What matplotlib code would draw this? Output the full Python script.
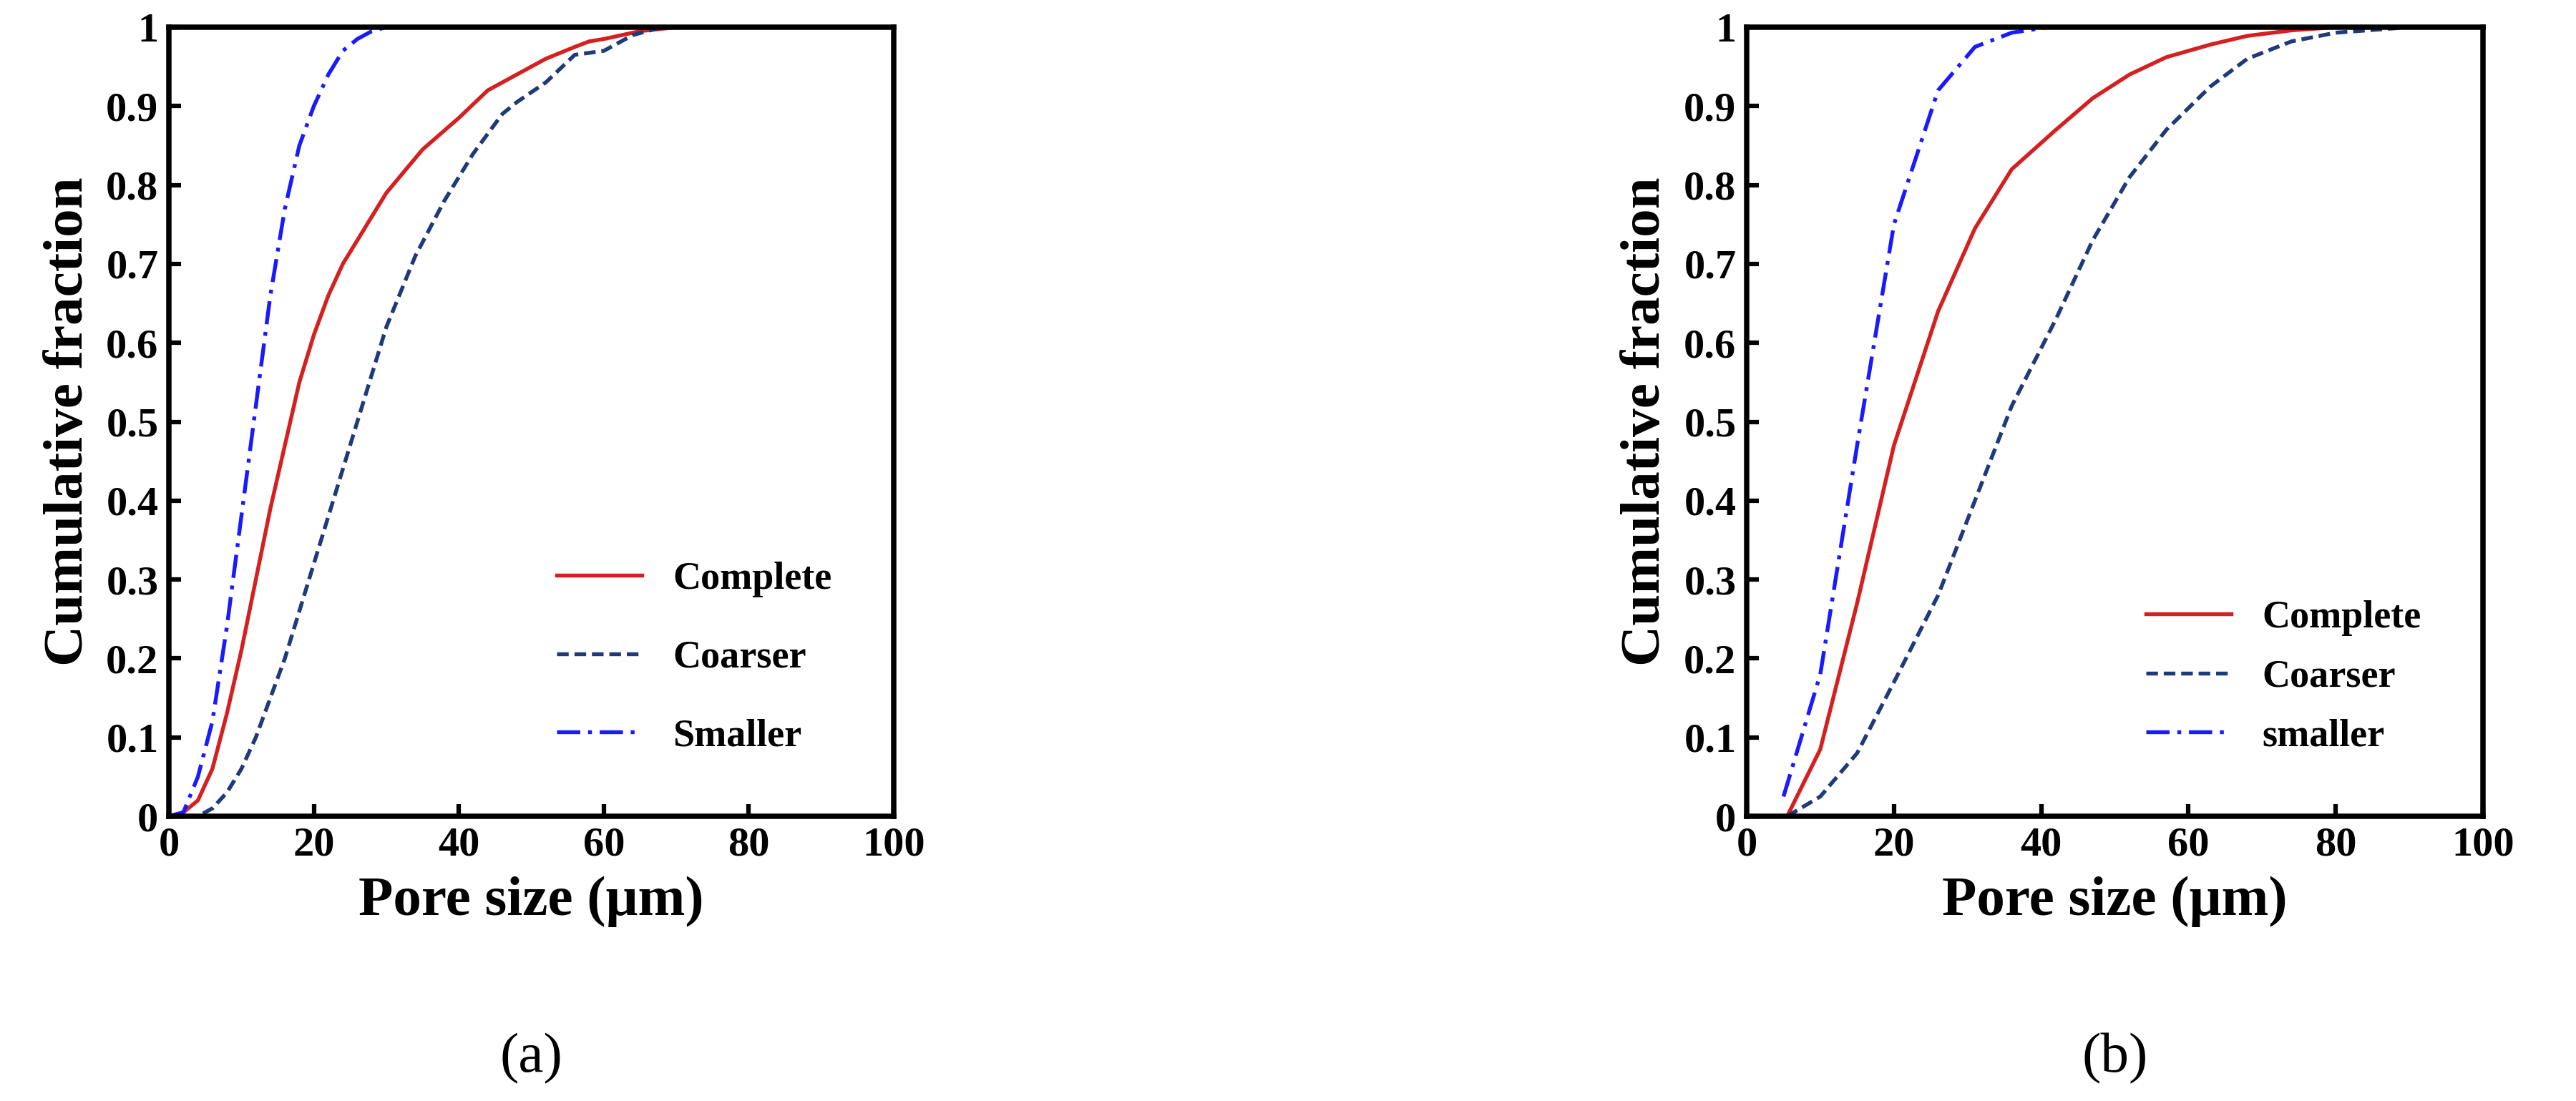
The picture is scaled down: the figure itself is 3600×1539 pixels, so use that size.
import numpy as np
import matplotlib
matplotlib.use('Agg')
import matplotlib.pyplot as plt

plt.rcParams['font.family'] = ['Liberation Serif', 'DejaVu Serif']
plt.rcParams['font.weight'] = 'bold'

# (a)
A_COMP_X = [0, 2, 4, 6, 8, 10, 12, 14, 16, 18, 20, 22, 24, 26, 30, 35, 40, 44, 48, 52, 56, 58, 60, 65, 70, 82]
A_COMP_Y = [0, 0.005, 0.02, 0.06, 0.13, 0.21, 0.30, 0.39, 0.47, 0.55, 0.61, 0.66, 0.70, 0.73, 0.79, 0.845,
            0.885, 0.92, 0.94, 0.96, 0.975, 0.982, 0.985, 0.995, 1.0, 1.0]
A_COAR_X = [0, 4, 6, 8, 10, 12, 14, 16, 18, 20, 22, 24, 26, 28, 30, 34, 38, 42, 46, 48, 52, 56, 60, 64, 68, 82]
A_COAR_Y = [0, 0, 0.01, 0.03, 0.06, 0.10, 0.15, 0.20, 0.26, 0.32, 0.38, 0.44, 0.50, 0.56, 0.62, 0.71, 0.78,
            0.84, 0.89, 0.905, 0.93, 0.965, 0.97, 0.99, 1.0, 1.0]
A_SMAL_X = [0, 2, 4, 6, 8, 10, 12, 14, 16, 18, 20, 22, 24, 26, 28, 30, 34]
A_SMAL_Y = [0, 0.005, 0.05, 0.12, 0.24, 0.38, 0.52, 0.66, 0.77, 0.85, 0.90, 0.94, 0.97, 0.985, 0.995, 1.0, 1.0]

# (b)
B_COMP_X = [5.5, 10, 15, 20, 26, 31, 36, 42, 47, 52, 57, 63, 68, 74, 80, 100]
B_COMP_Y = [0, 0.085, 0.27, 0.47, 0.64, 0.745, 0.82, 0.87, 0.91, 0.94, 0.962, 0.978, 0.989, 0.996, 1.0, 1.0]
B_COAR_X = [5.5, 10, 15, 20, 26, 31, 36, 42, 47, 52, 57, 63, 68, 74, 80, 90, 100]
B_COAR_Y = [0, 0.025, 0.08, 0.17, 0.28, 0.40, 0.52, 0.63, 0.73, 0.81, 0.87, 0.925, 0.96, 0.982, 0.993, 1.0, 1.0]
B_SMAL_X = [5, 10, 15, 20, 26, 31, 36, 41, 100]
B_SMAL_Y = [0.025, 0.18, 0.47, 0.75, 0.92, 0.975, 0.993, 1.0, 1.0]

fig = plt.figure(figsize=(12, 5.13), dpi=300)
W, H = 3600, 1539
boxes = [(236, 38, 1249, 1141), (2441, 38, 3470, 1141)]
panels = [
    ((A_COMP_X, A_COMP_Y), (A_COAR_X, A_COAR_Y), (A_SMAL_X, A_SMAL_Y), 'Smaller', '(a)'),
    ((B_COMP_X, B_COMP_Y), (B_COAR_X, B_COAR_Y), (B_SMAL_X, B_SMAL_Y), 'smaller', '(b)'),
]

for (x0, y0, x1, y1), (comp, coar, smal, slabel, tag) in zip(boxes, panels):
    ax = fig.add_axes([x0 / W, 1 - y1 / H, (x1 - x0) / W, (y1 - y0) / H])
    ax.plot(*comp, color='#d42020', lw=1.3, label='Complete')
    ax.plot(*coar, color='#1f3a7a', lw=1.3, ls=(0, (3, 1.5)), label='Coarser')
    ax.plot(*smal, color='#1a1aff', lw=1.3, ls=(0, (6, 2, 1, 2)), label=slabel)
    ax.set_xlim(0, 100)
    ax.set_ylim(0, 1)
    ax.set_xticks(np.arange(0, 101, 20))
    ax.set_yticks(np.arange(0, 1.01, 0.1))
    ax.set_yticklabels(['0'] + [f'{v:.1f}' for v in np.arange(0.1, 0.95, 0.1)] + ['1'])
    ax.tick_params(labelsize=14, width=1.5, length=4, direction='in')
    for s in ax.spines.values():
        s.set_linewidth(1.8)
    ax.set_xlabel('Pore size (μm)', fontsize=19, fontweight='bold')
    ax.set_ylabel('Cumulative fraction', fontsize=19, fontweight='bold')
    ax.legend(loc='lower right', frameon=False, fontsize=13, handlelength=2.2,
              labelspacing=1.1 if tag == '(a)' else 0.6, borderaxespad=1.2)
    cx = (x0 + x1) / 2 / W
    fig.text(cx, 1 - 1480 / H, tag, ha='center', va='center', fontsize=19, fontweight='normal')

fig.savefig('out.png', dpi=300)
